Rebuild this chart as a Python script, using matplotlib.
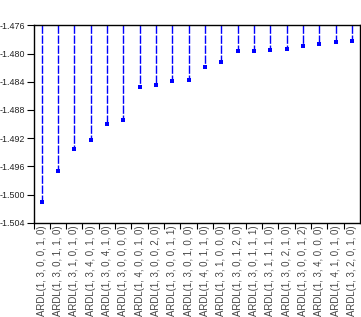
import matplotlib
matplotlib.use("Agg")
import matplotlib.pyplot as plt

plt.rcParams['font.family'] = ['Liberation Sans', 'DejaVu Sans']
plt.rcParams['lines.scale_dashes'] = False

models = [
    "ARDL(1, 3, 0, 0, 1, 0)", "ARDL(1, 3, 0, 1, 1, 0)", "ARDL(1, 3, 1, 0, 1, 0)",
    "ARDL(1, 3, 4, 0, 1, 0)", "ARDL(1, 3, 0, 4, 1, 0)", "ARDL(1, 3, 0, 0, 0, 0)",
    "ARDL(1, 4, 0, 0, 1, 0)", "ARDL(1, 3, 0, 0, 2, 0)", "ARDL(1, 3, 0, 0, 1, 1)",
    "ARDL(1, 3, 0, 1, 0, 0)", "ARDL(1, 4, 0, 1, 1, 0)", "ARDL(1, 3, 1, 0, 0, 0)",
    "ARDL(1, 3, 0, 1, 2, 0)", "ARDL(1, 3, 0, 1, 1, 1)", "ARDL(1, 3, 1, 1, 1, 0)",
    "ARDL(1, 3, 0, 2, 1, 0)", "ARDL(1, 3, 0, 0, 1, 2)", "ARDL(1, 3, 4, 0, 0, 0)",
    "ARDL(1, 4, 1, 0, 1, 0)", "ARDL(1, 3, 2, 0, 1, 0)",
]
criterion = [
    -1.5011, -1.4966, -1.4935, -1.4922, -1.4900, -1.4894,
    -1.4847, -1.4845, -1.4839, -1.4838, -1.4819, -1.4812,
    -1.4797, -1.4796, -1.4795, -1.4794, -1.4790, -1.4787,
    -1.4784, -1.4782,
]
yticks = [-1.504, -1.500, -1.496, -1.492, -1.488, -1.484, -1.480, -1.476]

W, H = 361, 317
fig = plt.figure(figsize=(W / 100, H / 100), dpi=100)
ax = fig.add_axes([33.5 / W, 1 - 222.7 / H, (360.0 - 33.5) / W, (222.7 - 25.3) / H])

ymin, ymax = yticks[0], yticks[-1]
xs = list(range(len(models)))
for x, v in zip(xs, criterion):
    ax.plot([x, x], [ymax, v], color='#0000ff', lw=1.0,
            dashes=(6.0, 1.2), solid_capstyle='butt', dash_capstyle='butt')
ax.plot(xs, criterion, linestyle='none', marker='s', markersize=2.4,
        color='#0000ff', markeredgewidth=0)

ax.set_xlim(-0.5, len(models) - 0.5)
ax.set_ylim(ymin, ymax)
ax.set_yticks(yticks)
ax.set_yticklabels([f"{t:.3f}" for t in yticks], fontsize=6.4, color='#222222')
ax.set_xticks(xs)
ax.set_xticklabels(models, rotation=90, fontsize=6.9, color='#444444')
ax.tick_params(axis='x', length=0, pad=2)
ax.set_xticks([x + 0.5 for x in xs[:-1]] + [-0.5], minor=True)
ax.tick_params(axis='x', which='minor', length=4, width=0.8, direction='out')
ax.tick_params(axis='y', length=5, width=0.8, direction='out', pad=1)
for s in ax.spines.values():
    s.set_linewidth(1.0)

fig.savefig("out.png", dpi=100)
